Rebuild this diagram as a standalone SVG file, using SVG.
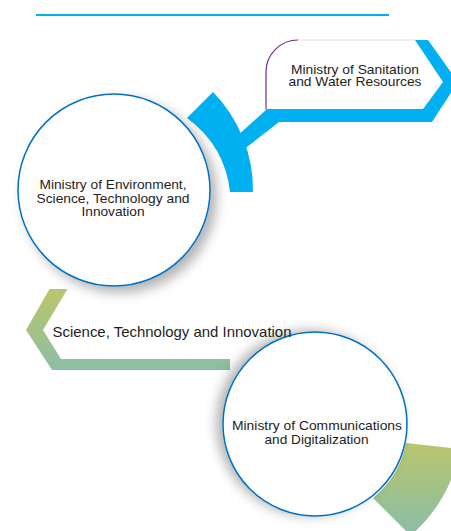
<svg xmlns="http://www.w3.org/2000/svg" width="451" height="531" viewBox="0 0 451 531">
  <defs>
    <linearGradient id="greenGrad" x1="0" y1="0" x2="0" y2="1">
      <stop offset="0" stop-color="#BBC66A"/>
      <stop offset="1" stop-color="#8CBEA4"/>
    </linearGradient>
    <linearGradient id="greenGrad2" gradientUnits="userSpaceOnUse" x1="0" y1="440" x2="0" y2="531">
      <stop offset="0" stop-color="#BBC66A"/>
      <stop offset="1" stop-color="#8CBEA4"/>
    </linearGradient>
    <filter id="shadowR" x="-20%" y="-20%" width="140%" height="140%">
      <feGaussianBlur in="SourceAlpha" stdDeviation="6"/>
      <feOffset dx="6" dy="6" result="b"/>
      <feFlood flood-color="#000" flood-opacity="0.3"/>
      <feComposite in2="b" operator="in"/>
      <feMerge><feMergeNode/><feMergeNode in="SourceGraphic"/></feMerge>
    </filter>
    <filter id="shadowL" x="-20%" y="-20%" width="140%" height="140%">
      <feGaussianBlur in="SourceAlpha" stdDeviation="6"/>
      <feOffset dx="-6" dy="-1" result="b"/>
      <feFlood flood-color="#000" flood-opacity="0.3"/>
      <feComposite in2="b" operator="in"/>
      <feMerge><feMergeNode/><feMergeNode in="SourceGraphic"/></feMerge>
    </filter>
  </defs>
  <style>
    .circ { fill: #FEFEFE; stroke: #0070C0; stroke-width: 1.5; }
    .lbl { font-family: "Liberation Sans", Arial, sans-serif; font-size: 12.4px; fill: #1E1E1E; text-anchor: middle; }
    .lbl2 { font-family: "Liberation Sans", Arial, sans-serif; font-size: 14.5px; fill: #1E1E1E; }
    .blue { fill: #00B0F0; }
  </style>

  <rect width="451" height="531" fill="#FFFFFF"/>
  <line x1="36" y1="15" x2="389" y2="15" stroke="#00B0F0" stroke-width="2"/>

  <g id="connectors">
    <!-- blue arc around environment circle -->
    <path class="blue" d="M187,118 L213,92 A140,140 0 0 1 253,192 L230,192 Q225,146 187,118 Z"/>
    <!-- blue band to sanitation box -->
    <path class="blue" d="M266,110 V72 A32,32 0 0 1 298,40 L428,40 L458,82 L432,122 L279,122 L243,150 L237,136 Z"/>
    <!-- green chevron -->
    <path fill="url(#greenGrad)" d="M49.5,289 L67.5,289 L43,330 L61,359 L230,359 L230,370 L52,370 L26,330 Z"/>
    <!-- green arc around communications circle -->
    <path fill="url(#greenGrad2)" d="M406,443 L460,449 A147,147 0 0 1 410.6,535.6 L373,498 A94,94 0 0 0 406,443 Z"/>
  </g>

  <g id="node-sanitation">
    <path d="M266,109 V72 A32,32 0 0 1 298,40 H415 L443,82 L423,109 Z" fill="#FEFEFE"/>
    <path d="M298,40 H415" fill="none" stroke="#E6DAEE" stroke-width="1"/>
    <path d="M266,109 V72 A32,32 0 0 1 298,40" fill="none" stroke="#7030A0" stroke-width="1.2"/>
    <text class="lbl"><tspan x="355" y="74" textLength="128" lengthAdjust="spacingAndGlyphs">Ministry of Sanitation</tspan><tspan x="355" y="85.7" textLength="133" lengthAdjust="spacingAndGlyphs">and Water Resources</tspan></text>
  </g>

  <g id="node-environment">
    <circle class="circ" cx="114" cy="190" r="96" filter="url(#shadowR)"/>
    <text class="lbl"><tspan x="113" y="189.3" textLength="147" lengthAdjust="spacingAndGlyphs">Ministry of Environment,</tspan><tspan x="113" y="202.5" textLength="153" lengthAdjust="spacingAndGlyphs">Science, Technology and</tspan><tspan x="113" y="216" textLength="63" lengthAdjust="spacingAndGlyphs">Innovation</tspan></text>
  </g>

  <g id="node-communications">
    <circle class="circ" cx="315" cy="424" r="92" filter="url(#shadowL)"/>
    <text class="lbl"><tspan x="317" y="429.5" textLength="170" lengthAdjust="spacingAndGlyphs">Ministry of Communications</tspan><tspan x="316.5" y="443.5" textLength="104" lengthAdjust="spacingAndGlyphs">and Digitalization</tspan></text>
  </g>

  <g id="node-science">
    <text class="lbl2" x="52.5" y="337" textLength="239" lengthAdjust="spacingAndGlyphs">Science, Technology and Innovation</text>
  </g>
</svg>
